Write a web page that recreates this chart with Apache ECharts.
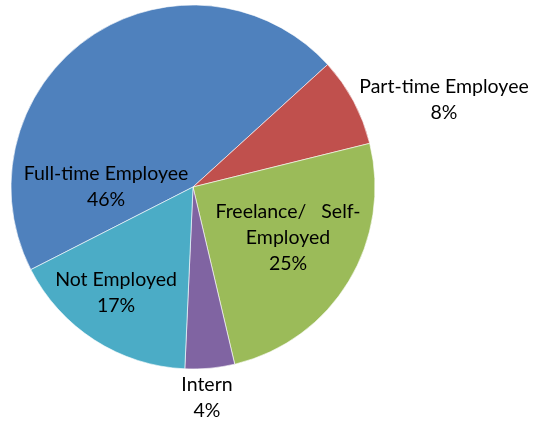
<!DOCTYPE html>
<html>
<head>
<meta charset="utf-8">
<script src="https://cdn.jsdelivr.net/npm/echarts@6/dist/echarts.min.js"></script>
<style>
  html, body { margin: 0; padding: 0; background: #fff; }
  #chart { width: 533px; height: 424px; }
</style>
</head>
<body>
<div id="chart"></div>
<script>
// 数据
var categories = ['Full-time Employee', 'Part-time Employee', 'Freelance/   Self-\nEmployed', 'Intern', 'Not Employed'];
var values = [45.8, 7.9, 25.2, 4.4, 16.8];
var colors = ['#4F81BD', '#C0504D', '#9BBB59', '#8064A2', '#4BACC6'];
// label centres (px), like Excel's manual placement
var labelPos = [[106, 187], [444, 100], [288, 238], [207, 398], [116, 293]];

var pieData = [];
categories.map(function (name, i) {
  pieData.push({value: values[i], name: name});
});

var myChart = echarts.init(document.getElementById('chart'));
myChart.setOption({
  animation: false,
  color: colors,
  series: [
    {
      type: 'pie',
      center: [193, 187],
      radius: 182,
      startAngle: 207,
      clockwise: true,
      avoidLabelOverlap: false,
      itemStyle: {
        borderColor: '#fff',
        borderWidth: 0.6
      },
      label: {
        show: true,
        position: 'inside',
        formatter: function (p) {
          return p.name + '\n' + Math.round(p.percent) + '%';
        },
        color: '#000',
        fontFamily: 'Lato',
        fontSize: 19.5,
        lineHeight: 26,
        align: 'center'
      },
      labelLine: {show: false},
      labelLayout: function (params) {
        var pos = labelPos[params.dataIndex];
        return {x: pos[0], y: pos[1], align: 'center', verticalAlign: 'middle'};
      },
      data: pieData
    }
  ]
});
</script>
</body>
</html>
